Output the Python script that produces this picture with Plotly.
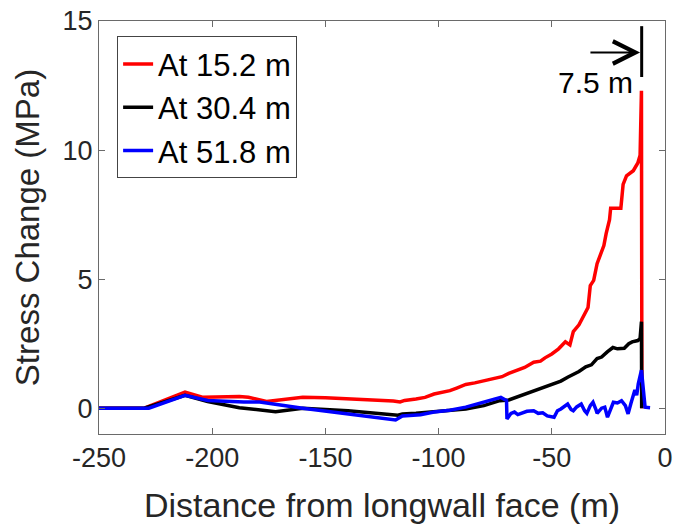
import plotly.graph_objects as go

# ---- data ----
red_x = [-250, -230, -212, -204, -188, -184, -176, -168, -160, -150, -135, -120, -117,
         -115, -110, -106, -102, -98, -95, -92, -88, -84, -80, -76, -72, -69, -66, -62,
         -58, -55, -53, -50, -47, -44, -42, -40.5, -38, -36.5, -34, -33, -31.5, -30,
         -28.5, -27, -26, -24.5, -24, -19.5, -18.5, -17, -14, -12, -11, -10.4, -10.2]
red_y = [0, 0, 0.62, 0.42, 0.45, 0.42, 0.26, 0.35, 0.42, 0.40, 0.35, 0.28, 0.24,
         0.30, 0.36, 0.42, 0.55, 0.62, 0.68, 0.78, 0.92, 0.98, 1.05, 1.12, 1.22, 1.35, 1.45, 1.58,
         1.78, 1.82, 1.95, 2.1, 2.3, 2.57, 2.45, 2.97, 3.23, 3.5, 3.9, 4.75, 4.95, 5.6,
         6.0, 6.3, 6.76, 7.3, 7.75, 7.75, 8.67, 9.0, 9.2, 9.5, 9.8, 12.3, 0.0]

black_x = [-250, -230, -212, -202, -188, -172, -160, -140, -118, -116, -110, -102, -95,
           -88, -80, -73, -69, -65, -60, -55, -50, -46, -43, -40, -38, -35, -32.5, -30,
           -28, -25.5, -23, -21, -18, -16, -14.5, -12, -11, -10.4, -10.3]
black_y = [0, 0, 0.5, 0.26, 0.02, -0.14, 0.0, -0.1, -0.27, -0.22, -0.2, -0.15, -0.08,
           -0.03, 0.1, 0.29, 0.32, 0.45, 0.6, 0.75, 0.94, 1.05, 1.2, 1.32, 1.42, 1.6, 1.68, 1.92,
           1.98, 2.18, 2.35, 2.3, 2.32, 2.5, 2.57, 2.62, 2.7, 3.35, 0.0]

blue_x = [-250, -228, -212, -202, -186, -179, -160, -140, -119, -116, -112, -108, -102,
          -95, -88, -80, -75, -72.5, -70, -69.8, -68, -66.5, -65, -63, -61, -58, -56, -54,
          -52, -49, -47.5, -46, -44, -43, -41.5, -40.5, -39, -37, -35.5, -34.5, -33, -31.8,
          -30.5, -30, -28, -26.6, -25.4, -24, -22.8, -21, -19.2, -17.5, -16.3, -15, -13.3,
          -12.5, -11.8, -10.4, -9.5, -8.8, -6.6]
blue_y = [0, 0, 0.5, 0.3, 0.24, 0.24, 0.0, -0.22, -0.46, -0.3, -0.28, -0.25, -0.15,
          -0.08, 0.04, 0.23, 0.35, 0.42, 0.3, -0.42, -0.2, -0.15, -0.25, -0.2, -0.12, -0.1, -0.2, -0.18,
          -0.3, -0.35, -0.1, -0.03, 0.1, 0.16, -0.05, -0.1, 0.05, 0.16, -0.1, -0.2, 0.1, 0.23,
          -0.05, -0.2, 0.0, 0.04, -0.35, 0.0, 0.23, 0.2, 0.29, 0.1, -0.22, 0.2, 0.7,
          0.5, 0.94, 1.47, 0.6, 0.04, 0.02]

series_names = ["At 15.2 m", "At 30.4 m", "At 51.8 m"]
series_colors = ["#ff0000", "#000000", "#0000ff"]

x_ticks = [-250, -200, -150, -100, -50, 0]
x_ticktext = ["-250", "-200", "-150", "-100", "-50", "0"]
y_ticks = [0, 5, 10, 15]
y_ticktext = ["0", "5", "10", "15"]

# annotation "7.5 m" marker (data coordinates)
face_x = -10.3
face_y = [12.83, 14.8]
arrow_tail_x, arrow_head_x, arrow_y = -33.6, -11.0, 13.78
label_text, label_x, label_y = "7.5 m", -30.5, 12.6

FONT = "Liberation Sans, Arial, sans-serif"
AXCOL = "#6a6a6a"

fig = go.Figure()
for xs, ys, name, col in zip([red_x, black_x, blue_x], [red_y, black_y, blue_y],
                             series_names, series_colors):
    fig.add_trace(go.Scatter(x=xs, y=ys, mode="lines", name=name,
                             line=dict(color=col, width=3.5)))

fig.add_shape(type="line", xref="x", yref="y", x0=face_x, x1=face_x,
              y0=face_y[0], y1=face_y[1], line=dict(color="black", width=3))
fig.add_annotation(x=arrow_head_x, y=arrow_y, ax=arrow_tail_x, ay=arrow_y,
                   xref="x", yref="y", axref="x", ayref="y", text="",
                   showarrow=True, arrowhead=5, arrowsize=2.0, arrowwidth=2.2,
                   arrowcolor="black")
fig.add_annotation(x=label_x, y=label_y, xref="x", yref="y", text=label_text,
                   showarrow=False, font=dict(family=FONT, size=30, color="black"))

axis_common = dict(showline=True, linecolor=AXCOL, linewidth=1, mirror="ticks",
                   ticks="inside", ticklen=6, tickcolor=AXCOL, showgrid=False,
                   zeroline=False, automargin=False,
                   tickfont=dict(family=FONT, size=27, color="#262626"))

fig.update_xaxes(range=[-250, 0], tickvals=x_ticks, ticktext=x_ticktext,
                 title=dict(text="Distance from longwall face (m)",
                            font=dict(family=FONT, size=34, color="#262626"), standoff=20),
                 **axis_common)
fig.update_yaxes(range=[-1, 15], tickvals=y_ticks, ticktext=y_ticktext,
                 title=dict(text="Stress Change (MPa)",
                            font=dict(family=FONT, size=33, color="#262626"), standoff=13),
                 **axis_common)

fig.update_layout(
    width=675, height=528,
    margin=dict(l=99, r=10, t=21, b=94, autoexpand=False),
    plot_bgcolor="white", paper_bgcolor="white",
    showlegend=True,
    legend=dict(x=0.032, y=0.963, xanchor="left", yanchor="top",
                bgcolor="white", bordercolor="#444444", borderwidth=1,
                font=dict(family=FONT, size=31, color="black"),
                tracegroupgap=0, itemwidth=30),
)

fig.write_html("out.html")
